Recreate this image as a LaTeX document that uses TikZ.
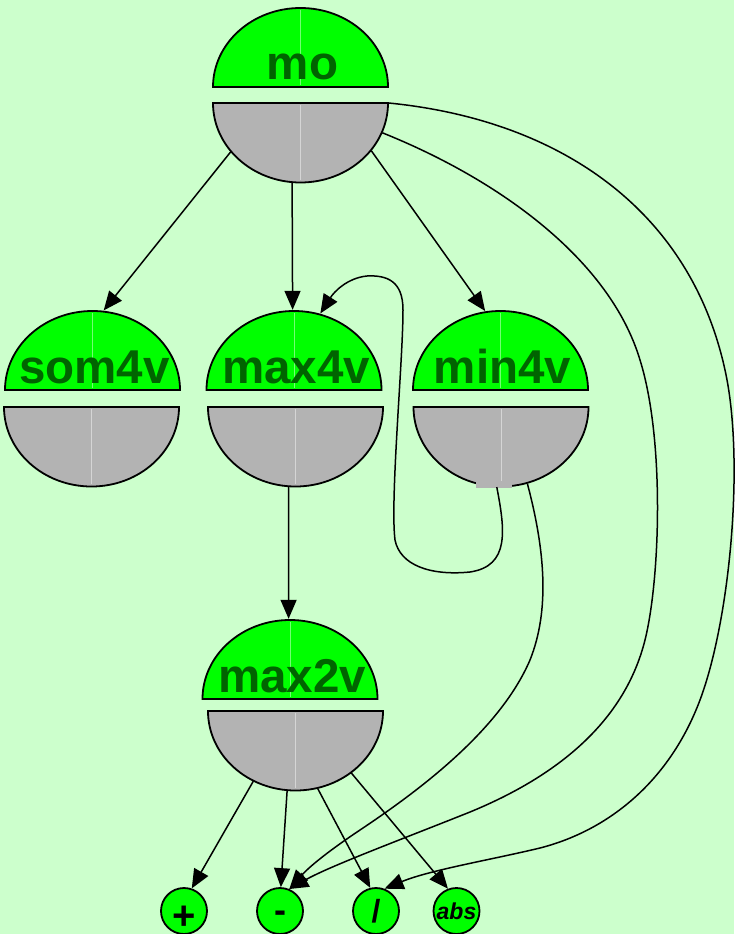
\documentclass[tikz,border=0pt]{standalone}
\usepackage{fontspec}
\setmainfont{Liberation Sans}
\usepackage{tikz}
\usetikzlibrary{arrows.meta,shapes.geometric,positioning,calc}
\usepackage{xcolor}
\definecolor{bggreen}{RGB}{204,255,204}
\definecolor{topgreen}{RGB}{0,255,0}
\definecolor{botgray}{RGB}{179,179,179}
\definecolor{lblgreen}{RGB}{0,100,0}

% one operator: green upper half with its name, grey lower half
% #1 name, #2 x of upper half, #3 x of lower half, #4 y of upper edge, #5 y of lower edge, #6 text
\newcommand{\splitnode}[6]{%
  \fill[topgreen] ({#2-87.5},#4) arc[start angle=180, end angle=0, x radius=87.5pt, y radius=79pt] -- cycle;
  \draw[seam, draw=topgreen!55!white] (#2,{#4-2}) -- (#2,{#4-77});
  \draw[halfline] ({#2-87.5},#4) arc[start angle=180, end angle=0, x radius=87.5pt, y radius=79pt] -- cycle;
  \fill[botgray] ({#3-87.5},#5) arc[start angle=180, end angle=360, x radius=87.5pt, y radius=79.5pt] -- cycle;
  \draw[seam, draw=botgray!55!white] (#3,{#5+2}) -- (#3,{#5+77});
  \draw[halfline] ({#3-87.5},#5) arc[start angle=180, end angle=360, x radius=87.5pt, y radius=79.5pt] -- cycle;
  \node[ring] (#1-t) at (#2,#4) {};
  \node[ring] (#1-b) at (#3,#5) {};
  \node[lbl] (#1) at ({#2+2},{#4-7}) {#6};
}

\begin{document}
\begin{tikzpicture}[x=1pt, y=-1pt,
    halfline/.style={draw=black, line width=1.8pt},
    seam/.style={line width=0.6pt},
    ring/.style={ellipse, draw=none, inner sep=0pt, minimum width=176pt, minimum height=160pt},
    lbl/.style={anchor=base, inner sep=0pt, text=lblgreen, font=\fontsize{47.5}{47.5}\selectfont\bfseries},
    leaf/.style={circle, draw, line width=1.8pt, fill=topgreen, minimum size=46pt, inner sep=0pt},
    arr/.style={-{Triangle[length=19pt, width=16pt]}, line width=1.5pt}
  ]
  \fill[bggreen] (0,0) rectangle (734,934);
  \useasboundingbox (0,0) rectangle (734,934);

  \splitnode{mo}{300.5}{300.5}{87}{103}{mo}
  \splitnode{som4v}{92.5}{91.5}{390}{407}{som4v}
  \splitnode{max4v}{294}{295.5}{390}{407}{max4v}
  \splitnode{min4v}{500.5}{501}{390}{407}{min4v}
  \splitnode{max2v}{290}{295.5}{699}{711}{max2v}
  \fill[botgray] (476,481) rectangle (512,487.5);

  \node[leaf] (plus) at (184,911) {\fontsize{40}{40}\selectfont\bfseries\smash{\raisebox{-18pt}{+}}};
  \node[leaf] (minus) at (280,911) {\fontsize{36}{36}\selectfont\bfseries\smash{\raisebox{-11pt}{-}}};
  \node[leaf] (slash) at (376,911) {\fontsize{32}{32}\selectfont\bfseries /};
  \node[leaf] (abs) at (456.5,911) {\fontsize{23}{23}\selectfont\bfseries\itshape abs};

  % straight edges
  \draw[arr] (mo-b.-145) -- (som4v-t.82);
  \draw[arr] (mo-b.-96) -- (max4v-t.91);
  \draw[arr] (mo-b.-34) -- (min4v-t.101);
  \draw[arr] (max4v-b.-95) -- (max2v-t.91);
  \draw[arr] (max2v-b.-121) -- (plus.71);
  \draw[arr] (max2v-b.-96) -- (minus.88);
  \draw[arr] (max2v-b.-74) -- (slash.104);
  \draw[arr] (max2v-b.-48) -- (abs.111);

  % curved edges
  \draw[arr] (min4v-b.-93) .. controls (505,530) and (510,566) .. (470,572)
    .. controls (430,576) and (400,565) .. (395,540)
    .. controls (390,500) and (403,360) .. (403,310)
    .. controls (403,281) and (387,275) .. (367,276)
    .. controls (347,278) and (334,292) .. (max4v-t.71);
  \draw[arr] (min4v-b.-71) .. controls (545,550) and (550,610) .. (530,660)
    .. controls (500,730) and (420,790) .. (360,830)
    .. controls (330,850) and (310,866) .. (minus.67);
  \draw[arr] (mo-b.-20) .. controls (500,180) and (610,260) .. (640,360)
    .. controls (665,440) and (660,580) .. (645,640)
    .. controls (625,720) and (560,775) .. (470,812)
    .. controls (400,840) and (330,866) .. (minus.67);
  \draw[arr] (mo-b.0) .. controls (560,120) and (690,210) .. (725,370)
    .. controls (745,460) and (730,620) .. (700,700)
    .. controls (670,780) and (610,830) .. (540,848)
    .. controls (490,860) and (430,870) .. (slash.69);
\end{tikzpicture}
\end{document}
